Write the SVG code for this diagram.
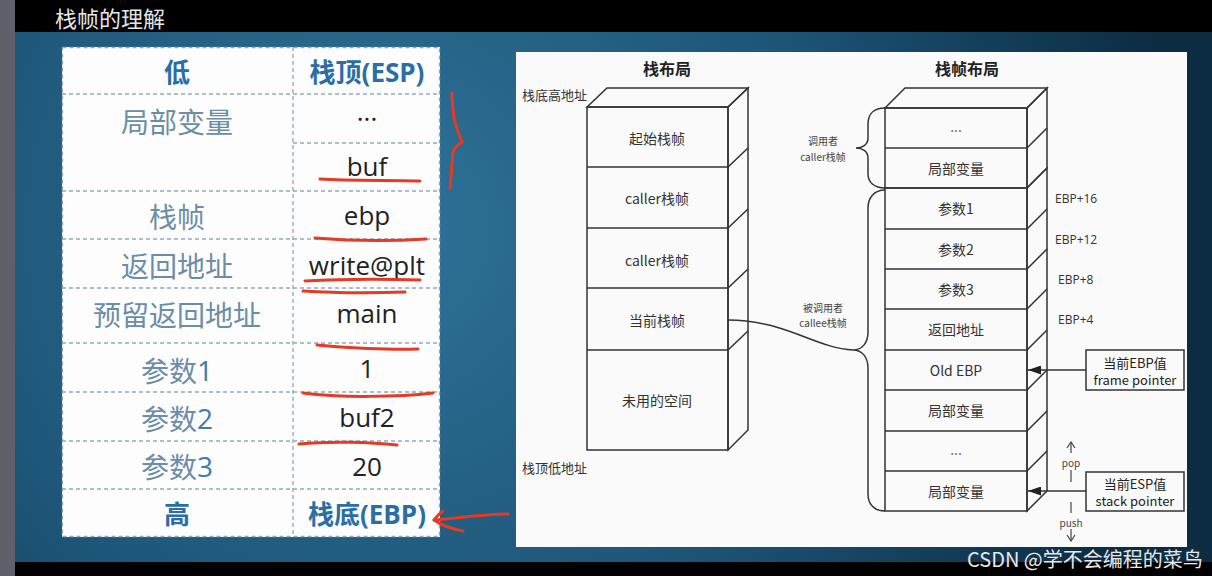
<svg xmlns="http://www.w3.org/2000/svg" width="1212" height="576" viewBox="0 0 1212 576">
<defs>
<radialGradient id="bg" cx="380" cy="230" r="800" gradientUnits="userSpaceOnUse">
<stop offset="0" stop-color="#2f7399"/>
<stop offset="0.55" stop-color="#1d5577"/>
<stop offset="1" stop-color="#0c2c42"/>
</radialGradient>
<marker id="tri" markerWidth="13" markerHeight="9" refX="13" refY="4.5" orient="auto" markerUnits="userSpaceOnUse">
<path d="M0,0 L13,4.5 L0,9 z" fill="#222"/>
</marker>
<marker id="chev" markerWidth="10" markerHeight="10" refX="9" refY="5" orient="auto" markerUnits="userSpaceOnUse" viewBox="0 0 10 10">
<path d="M3,1 L9,5 L3,9" fill="none" stroke="#444" stroke-width="1.2"/>
</marker>
</defs>
<style>
.hd{font-family:"Open Sans","Noto Sans CJK SC",sans-serif;font-weight:bold;font-size:26px;fill:#2b6ea6;text-anchor:middle;dominant-baseline:central}
.lc{font-family:"Noto Sans CJK SC",sans-serif;font-size:28px;fill:#6b8da6;text-anchor:middle;dominant-baseline:central}
.lc tspan.d{font-family:"Open Sans",sans-serif;fill:#3f7bab}
.rv{font-family:"Open Sans","Noto Sans CJK SC",sans-serif;font-size:26px;fill:#222;text-anchor:middle;dominant-baseline:central}
.grid{stroke:#8ea9bb;stroke-width:1.3;stroke-dasharray:4 3;fill:none}
.red{stroke:#e63a22;stroke-width:3;fill:none;stroke-linecap:round;stroke-linejoin:round}
.edge{stroke:#333;stroke-width:1.5;fill:none}
.t14{font-family:"Noto Sans CJK SC",sans-serif;font-size:14px;fill:#333;text-anchor:middle;dominant-baseline:central}
.ttl{font-family:"Noto Sans CJK SC",sans-serif;font-size:16px;font-weight:bold;fill:#222;text-anchor:middle;dominant-baseline:central}
.lab{font-family:"Noto Sans CJK SC",sans-serif;font-size:13px;fill:#333;dominant-baseline:central}
.ebp{font-family:"Open Sans",sans-serif;font-size:12px;fill:#333;dominant-baseline:central}
.sm{font-family:"Noto Sans CJK SC",sans-serif;font-size:10px;fill:#444;text-anchor:middle;dominant-baseline:central}
.bx{font-family:"Noto Sans CJK SC",sans-serif;font-size:13px;fill:#222;text-anchor:middle;dominant-baseline:central}
</style>

<!-- frame / background -->
<rect x="0" y="0" width="1212" height="576" fill="#000"/>
<rect x="15" y="32" width="1197" height="530" fill="url(#bg)"/>
<rect x="0" y="0" width="15" height="576" fill="#5f6068"/>
<text x="55" y="17" font-family="Noto Sans CJK SC,sans-serif" font-size="22" fill="#e6e6e6" dominant-baseline="central">栈帧的理解</text>

<!-- left table -->
<g id="table">
<rect x="62" y="47" width="378" height="490" fill="#fdfdfd"/>
<rect x="62.5" y="47.5" width="377" height="489" class="grid" stroke="#c9d6df"/>
<path class="grid" d="M62,94H440 M62,191H440 M62,239H440 M62,288H440 M62,343H440 M62,392H440 M62,441H440 M62,489H440 M293,143H440 M293,47V537"/>
<text class="hd" x="177" y="72">低</text>
<text class="hd" x="367" y="72">栈顶(ESP)</text>
<text class="lc" x="177" y="121">局部变量</text>
<text class="rv" x="367" y="111">...</text>
<text class="rv" x="367" y="166">buf</text>
<text class="lc" x="177" y="216">栈帧</text>
<text class="rv" x="367" y="215">ebp</text>
<text class="lc" x="177" y="265">返回地址</text>
<text class="rv" x="367" y="265">write@plt</text>
<text class="lc" x="177" y="314">预留返回地址</text>
<text class="rv" x="367" y="313">main</text>
<text class="lc" x="177" y="370">参数<tspan class="d">1</tspan></text>
<text class="rv" x="367" y="368">1</text>
<text class="lc" x="177" y="418">参数<tspan class="d">2</tspan></text>
<text class="rv" x="367" y="417">buf2</text>
<text class="lc" x="177" y="466">参数<tspan class="d">3</tspan></text>
<text class="rv" x="367" y="466">20</text>
<text class="hd" x="177" y="514">高</text>
<text class="hd" x="367" y="514">栈底(EBP)</text>
</g>

<!-- red annotations -->
<g id="annotations">
<path class="red" d="M320,179 C350,181 390,180 420,181"/>
<path class="red" d="M315,238 C350,241 395,241 426,239"/>
<path class="red" d="M305,281 C340,279 390,279 420,280"/>
<path class="red" d="M303,291 C335,293 375,293 405,292"/>
<path class="red" d="M317,345 C345,348 390,350 418,349"/>
<path class="red" d="M303,393 C340,398 400,397 433,393"/>
<path class="red" d="M299,444 C330,441 370,442 397,445"/>
<path class="red" d="M452,93 C452,100 453,110 454,118 C456,128 460,136 462,142 C458,145 454,147 453,152 C452,165 451,178 450,188"/>
<path class="red" d="M508,514 C485,514 458,518 434,520"/>
<path class="red" d="M443,511 C439,514 436,517 434,520 C441,525 452,529 463,531"/>
<path class="red" d="M612,215 L645,215"/>
<circle cx="718" cy="283" r="3.5" fill="#f08080" stroke="#d93a2a" stroke-width="1.5"/>
</g>

<!-- right panel -->
<rect x="516" y="52" width="671" height="495" fill="#fafafa"/>

<!-- left stack -->
<g id="stack-layout">
<text class="ttl" x="667" y="68">栈布局</text>
<text class="lab" x="522" y="94">栈底高地址</text>
<text class="lab" x="522" y="467">栈顶低地址</text>
<path d="M587,107 L607,88 L748,88 L728,107 Z" fill="#f2f2f2" class="edge"/>
<path d="M728,107 L748,88 L748,430 L728,450 Z" fill="#dcdcdc" class="edge"/>
<rect x="587" y="107" width="141" height="343" fill="#fbfbfb" class="edge"/>
<path class="edge" d="M587,167H728 L748,148 M587,228H728 L748,209 M587,288H728 L748,269 M587,350H728 L748,331"/>
</g>
<g id="s-start"><text class="t14" x="657" y="138">起始栈帧</text></g>
<g id="s-caller1"><text class="t14" x="657" y="198">caller栈帧</text></g>
<g id="s-caller2"><text class="t14" x="657" y="260">caller栈帧</text></g>
<g id="s-current"><text class="t14" x="657" y="320">当前栈帧</text></g>
<g id="s-unused"><text class="t14" x="657" y="400">未用的空间</text></g>

<!-- right stack -->
<g id="frame-layout">
<text class="ttl" x="967" y="68">栈帧布局</text>
<path d="M885,108 L905,88 L1047,88 L1027,108 Z" fill="#e6e6e6" class="edge"/>
<path d="M1027,108 L1047,88 L1047,168 L1027,188 Z" fill="#c4c4c4" class="edge"/>
<path d="M1027,188 L1047,168 L1047,491 L1027,511 Z" fill="#e2e2e2" class="edge"/>
<rect x="885" y="108" width="142" height="80" fill="#d6d6d6" class="edge"/>
<rect x="885" y="188" width="142" height="323" fill="#fbfbfb" class="edge"/>
<path class="edge" d="M885,148H1027 L1047,128 M885,229H1027 L1047,209 M885,269H1027 L1047,249 M885,309H1027 L1047,289 M885,350H1027 L1047,330 M885,390H1027 L1047,370 M885,431H1027 L1047,411 M885,471H1027 L1047,451"/>
</g>
<g id="f-dots1"><text class="t14" x="956" y="126" style="fill:#777">...</text></g>
<g id="f-local1"><text class="t14" x="956" y="168">局部变量</text></g>
<g id="f-arg1"><text class="t14" x="956" y="208">参数1</text></g>
<g id="f-arg2"><text class="t14" x="956" y="249">参数2</text></g>
<g id="f-arg3"><text class="t14" x="956" y="289">参数3</text></g>
<g id="f-ret"><text class="t14" x="956" y="329">返回地址</text></g>
<g id="f-oldebp"><text class="t14" x="956" y="370">Old EBP</text></g>
<g id="f-local2"><text class="t14" x="956" y="410">局部变量</text></g>
<g id="f-dots2"><text class="t14" x="956" y="449" style="fill:#777">...</text></g>
<g id="f-local3"><text class="t14" x="956" y="491">局部变量</text></g>

<g id="ebp-offsets">
<text class="ebp" x="1055" y="198">EBP+16</text>
<text class="ebp" x="1055" y="239">EBP+12</text>
<text class="ebp" x="1058" y="279">EBP+8</text>
<text class="ebp" x="1058" y="319">EBP+4</text>
</g>

<g id="caller-brace">
<path class="edge" d="M885,108 C874,108 868,114 868,124 L868,138 C868,145 862,148 856,148 C862,148 868,151 868,158 L868,174 C868,182 874,188 885,188"/>
<text class="sm" x="823" y="140">调用者</text>
<text class="sm" x="823" y="156">caller栈帧</text>
</g>
<g id="callee-brace">
<path class="edge" d="M885,190 C874,190 868,198 868,208 L868,332 C868,343 862,350 853,350 C862,350 868,357 868,368 L868,494 C868,504 874,511 885,511"/>
<text class="sm" x="823" y="307">被调用者</text>
<text class="sm" x="823" y="322">callee栈帧</text>
</g>

<g id="ebp-box">
<rect x="1086" y="350" width="98" height="40" fill="#fff" class="edge"/>
<text class="bx" x="1135" y="362">当前EBP值</text>
<text class="bx" x="1135" y="379">frame pointer</text>
</g>
<g id="esp-box">
<rect x="1086" y="472" width="98" height="39" fill="#fff" class="edge"/>
<text class="bx" x="1135" y="483">当前ESP值</text>
<text class="bx" x="1135" y="500">stack pointer</text>
</g>

<g id="connectors">
<path class="edge" d="M728,320 C785,320 815,348 853,350"/>
<line class="edge" x1="1086" y1="370" x2="1028" y2="370" marker-end="url(#tri)"/>
<line class="edge" x1="1086" y1="491" x2="1028" y2="491" marker-end="url(#tri)"/>
<line x1="1071" y1="453" x2="1071" y2="442" stroke="#444" stroke-width="1.2" marker-end="url(#chev)"/>
<text class="sm" x="1071" y="462">pop</text>
<line x1="1071" y1="470" x2="1071" y2="482" stroke="#444" stroke-width="1.2"/>
<line x1="1071" y1="502" x2="1071" y2="513" stroke="#444" stroke-width="1.2"/>
<text class="sm" x="1071" y="522">push</text>
<line x1="1071" y1="529" x2="1071" y2="541" stroke="#444" stroke-width="1.2" marker-end="url(#chev)"/>
</g>

<text x="967" y="558" font-family="Noto Sans CJK SC,sans-serif" font-size="20" fill="#e8e8e8" dominant-baseline="central">CSDN @学不会编程的菜鸟</text>
</svg>
